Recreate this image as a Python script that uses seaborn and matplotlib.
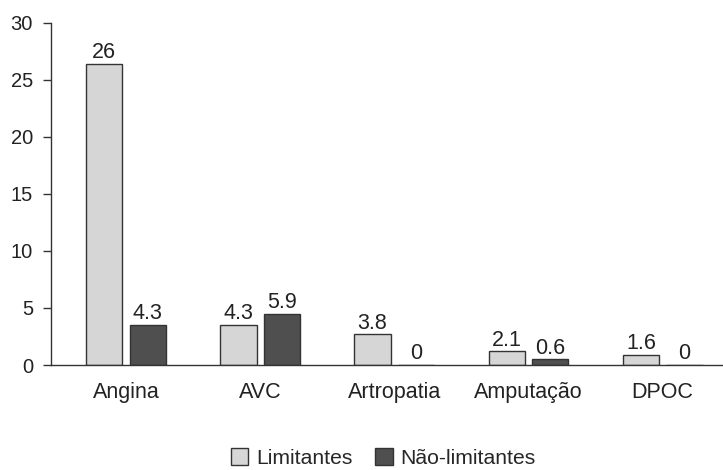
import matplotlib
matplotlib.use("Agg")
import matplotlib.pyplot as plt
import seaborn as sns
import pandas as pd

# categories and values
categorias = ["Angina", "AVC", "Artropatia", "Amputação", "DPOC"]
grupos = ["Limitantes", "Não-limitantes"]
# bar heights as drawn in the reference
limitantes = [26.4, 3.5, 2.7, 1.2, 0.9]
nao_limitantes = [3.5, 4.5, 0.0, 0.5, 0.0]
# printed value labels
rot_limitantes = ["26", "4.3", "3.8", "2.1", "1.6"]
rot_nao_limitantes = ["4.3", "5.9", "0", "0.6", "0"]

df = pd.DataFrame({
    "categoria": categorias * 2,
    "grupo": [grupos[0]] * len(categorias) + [grupos[1]] * len(categorias),
    "valor": limitantes + nao_limitantes,
})

sns.set_style("white")
plt.rcParams["font.family"] = ["Liberation Sans", "DejaVu Sans"]

fig = plt.figure(figsize=(7.23, 4.70), dpi=100)
ax = fig.add_axes([0.0705, 0.2234, 0.9295, 0.7283])

sns.barplot(data=df, x="categoria", y="valor", hue="grupo", order=categorias,
            hue_order=grupos, palette=["#d6d6d6", "#4f4f4f"], width=0.65, gap=0.17,
            edgecolor="#333333", linewidth=1, ax=ax, legend=True)

for cont, rot in zip(ax.containers, [rot_limitantes, rot_nao_limitantes]):
    ax.bar_label(cont, labels=rot, padding=0.5, fontsize=15.5, color="#222222")

ax.set_ylim(0, 30)
ax.set_xlim(-0.56, 4.45)
ax.set_yticks([0, 5, 10, 15, 20, 25, 30])
ax.set_xlabel("")
ax.set_ylabel("")
ax.tick_params(axis="y", length=6, width=1, color="#333333", labelsize=14.5, pad=7,
               labelcolor="#222222", left=True)
ax.tick_params(axis="x", length=0, labelsize=15.5, pad=12, labelcolor="#222222")
sns.despine(ax=ax)
for s in ["left", "bottom"]:
    ax.spines[s].set_color("#333333")
    ax.spines[s].set_linewidth(1)

h, l = ax.get_legend_handles_labels()
ax.get_legend().remove()
fig.legend(h, l, loc="lower center", bbox_to_anchor=(0.53, -0.036), ncol=2, frameon=False,
           fontsize=15.2, handlelength=0.82, handleheight=0.82, handletextpad=0.35,
           columnspacing=1.1)

fig.savefig("out.png", dpi=100)
